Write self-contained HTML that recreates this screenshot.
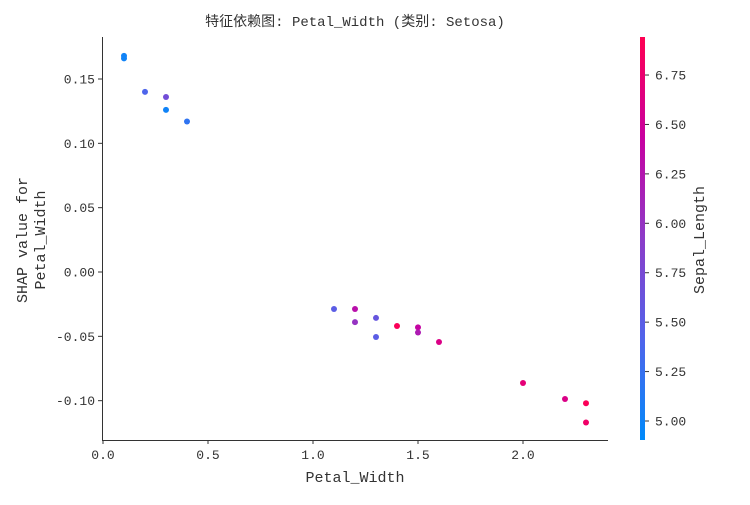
<!DOCTYPE html>
<html><head><meta charset="utf-8"><style>
html,body{margin:0;padding:0;background:#fff;}
svg text{font-family:"Liberation Mono","Noto Sans CJK SC",monospace;fill:#333;}
</style></head><body>
<svg id="c" width="750" height="500" xmlns="http://www.w3.org/2000/svg">
<defs>
<linearGradient id="cg" x1="0" y1="1" x2="0" y2="0">
<stop offset="0" stop-color="rgb(0,138,250)"/>
<stop offset="0.25" stop-color="rgb(80,100,235)"/>
<stop offset="0.5" stop-color="rgb(140,60,200)"/>
<stop offset="0.75" stop-color="rgb(200,0,160)"/>
<stop offset="1" stop-color="rgb(255,0,82)"/>
</linearGradient>
</defs>
<text x="355" y="26" text-anchor="middle" font-size="14">特征依赖图: Petal_Width (类别: Setosa)</text>
<g id="axes"></g>
<g id="pts"></g>
<rect x="640" y="37" width="5" height="403" fill="url(#cg)"/>
<g id="cb"></g>
<text x="355" y="482" text-anchor="middle" font-size="15">Petal_Width</text>
<text transform="translate(27,240) rotate(-90)" text-anchor="middle" font-size="15"><tspan x="0" dy="0">SHAP value for</tspan><tspan x="0" dy="18">Petal_Width</tspan></text>
<text transform="translate(704,240) rotate(-90)" text-anchor="middle" font-size="15">Sepal_Length</text>
</svg>
<script>
const xs=[0.1,0.1,0.2,0.3,0.3,0.4,1.1,1.2,1.2,1.3,1.3,1.4,1.5,1.5,1.6,2.0,2.2,2.3,2.3];
const shap=[0.168,0.166,0.140,0.136,0.126,0.117,-0.0288,-0.0288,-0.039,-0.0357,-0.0505,-0.042,-0.043,-0.047,-0.0544,-0.0863,-0.0987,-0.102,-0.117];
const sepal=[5.0,5.0,5.4,5.7,5.0,5.2,5.5,6.3,6.0,5.6,5.5,6.9,6.4,6.2,6.6,6.7,6.6,6.9,6.8];
const xTicks=[0.0,0.5,1.0,1.5,2.0];
const yTicks=[0.15,0.10,0.05,0.00,-0.05,-0.10];
const cTicks=[5.00,5.25,5.50,5.75,6.00,6.25,6.50,6.75];
const NS='http://www.w3.org/2000/svg';
const X=v=>103+v*210, Y=v=>272-v*1286.7, C=v=>421-(v-5.0)*197.7;
const cmin=4.9,cmax=6.94;
function col(v){const t=Math.max(0,Math.min(1,(v-cmin)/(cmax-cmin)));
const s=[[0,0,138,250],[0.25,80,100,235],[0.5,140,60,200],[0.75,200,0,160],[1,255,0,82]];
for(let i=0;i<4;i++){if(t<=s[i+1][0]){const f=(t-s[i][0])/(s[i+1][0]-s[i][0]);
return `rgb(${[1,2,3].map(k=>Math.round(s[i][k]+f*(s[i+1][k]-s[i][k]))).join(',')})`;}}return 'rgb(255,0,82)';}
function mk(tag,a,p){const e=document.createElementNS(NS,tag);for(const k in a)e.setAttribute(k,a[k]);p.appendChild(e);return e;}
const ax=document.getElementById('axes');
let l=mk('line',{x1:102.5,y1:37,x2:102.5,y2:440.5,stroke:'#333','stroke-width':1},ax);


l=mk('line',{x1:102,y1:440.5,x2:608,y2:440.5,stroke:'#333','stroke-width':1},ax);


xTicks.forEach(v=>{mk('line',{x1:X(v),y1:440,x2:X(v),y2:444,stroke:'#333'},ax);
const t=mk('text',{x:X(v),y:459,'text-anchor':'middle','font-size':13},ax);t.textContent=v.toFixed(1);

});
yTicks.forEach(v=>{mk('line',{x1:98,y1:Y(v),x2:102,y2:Y(v),stroke:'#333'},ax);
const t=mk('text',{x:95,y:Y(v)+4.5,'text-anchor':'end','font-size':13},ax);t.textContent=v.toFixed(2);

});
const cb=document.getElementById('cb');
cTicks.forEach(v=>{mk('line',{x1:645,y1:C(v),x2:649,y2:C(v),stroke:'#333'},cb);
const t=mk('text',{x:655,y:C(v)+4.5,'font-size':13},cb);t.textContent=v.toFixed(2);

});
const pg=document.getElementById('pts');
xs.forEach((x,i)=>{const p=mk('circle',{cx:X(x),cy:Y(shap[i]),r:3,fill:col(sepal[i])},pg);

});
</script>
</body></html>
